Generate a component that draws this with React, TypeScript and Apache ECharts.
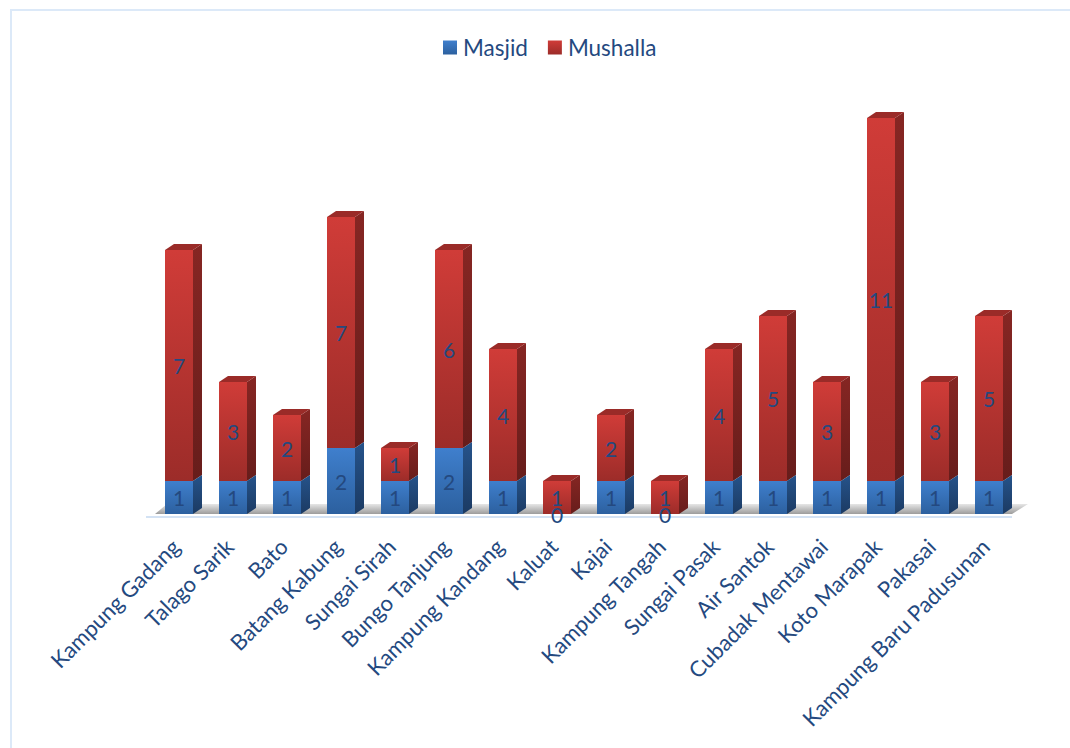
import React, { useEffect, useRef } from "react";
import * as echarts from "echarts";

const categories = [
  "Kampung Gadang", "Talago Sarik", "Bato", "Batang Kabung", "Sungai Sirah", "Bungo Tanjung",
  "Kampung Kandang", "Kaluat", "Kajai", "Kampung Tangah", "Sungai Pasak", "Air Santok",
  "Cubadak Mentawai", "Koto Marapak", "Pakasai", "Kampung Baru Padusunan",
];
const masjid = [1, 1, 1, 2, 1, 2, 1, 0, 1, 0, 1, 1, 1, 1, 1, 1];
const mushalla = [7, 3, 2, 7, 1, 6, 4, 1, 2, 1, 4, 5, 3, 11, 3, 5];

const TEXT = "#24497f";
const FONT = "Lato, 'Open Sans', sans-serif";
const BAR_W = 28;
const DEPTH_X = 9;
const DEPTH_Y = 6;

const vGrad = (top: string, bottom: string) =>
  new echarts.graphic.LinearGradient(0, 0, 0, 1, [
    { offset: 0, color: top },
    { offset: 1, color: bottom },
  ]);

type Palette = { front: [string, string]; side: [string, string]; top: string };
const bluePalette: Palette = { front: ["#3f7fcd", "#2c609f"], side: ["#26538a", "#1b3a63"], top: "#2f67a8" };
const redPalette: Palette = { front: ["#d03c38", "#9c2c29"], side: ["#862623", "#671d1b"], top: "#9a2b28" };

// Pseudo-3D prism with its value printed on the front face.
const prism = (palette: Palette, drawTop: boolean) => (_: any, api: any) => {
  const i = api.value(0);
  const value = api.value(2) - api.value(1);
  const [cx, y0] = api.coord([i, api.value(1)]);
  const [, y1] = api.coord([i, api.value(2)]);
  const l = cx - BAR_W / 2;
  const r = cx + BAR_W / 2;
  const children: any[] = [];
  if (value > 0) {
    children.push({
      type: "rect",
      shape: { x: l, y: y1, width: BAR_W, height: y0 - y1 },
      style: { fill: vGrad(palette.front[0], palette.front[1]) },
    });
    children.push({
      type: "polygon",
      shape: { points: [[r, y1], [r + DEPTH_X, y1 - DEPTH_Y], [r + DEPTH_X, y0 - DEPTH_Y], [r, y0]] },
      style: { fill: vGrad(palette.side[0], palette.side[1]) },
    });
    if (drawTop) {
      children.push({
        type: "polygon",
        shape: { points: [[l, y1], [r, y1], [r + DEPTH_X, y1 - DEPTH_Y], [l + DEPTH_X, y1 - DEPTH_Y]] },
        style: { fill: palette.top },
      });
    }
  }
  children.push({
    type: "text",
    style: {
      text: String(value),
      x: cx,
      y: (y0 + y1) / 2,
      align: "center",
      verticalAlign: "middle",
      fill: TEXT,
      font: `21px ${FONT}`,
    },
  });
  return { type: "group", children };
};

const masjidRows = masjid.map((v, i) => [i, 0, v]);
const mushallaRows = mushalla.map((v, i) => [i, masjid[i], masjid[i] + v]);

export default function App() {
  const ref = useRef<HTMLDivElement>(null);
  useEffect(() => {
    const chart = echarts.init(ref.current!, null, { renderer: "svg" });
    chart.setOption({
      animation: false,
      backgroundColor: "#ffffff",
      grid: { left: 152, top: 118, width: 864, height: 396 },
      legend: {
        data: ["Masjid", "Mushalla"],
        left: 438,
        top: 31,
        itemWidth: 14,
        itemHeight: 14,
        itemGap: 20,
        icon: "rect",
        textStyle: { color: TEXT, fontSize: 22.5, fontFamily: FONT, padding: [0, 0, 0, 1] },
      },
      xAxis: {
        type: "category",
        data: categories,
        axisLine: { show: false },
        axisTick: { show: false },
        axisLabel: {
          interval: 0,
          rotate: 45,
          margin: 25,
          padding: [0, 5, 0, 0],
          color: TEXT,
          fontSize: 22,
          fontFamily: FONT,
        },
      },
      yAxis: { type: "value", min: 0, max: 12, show: false },
      graphic: [
        // Chart frame
        { type: "line", shape: { x1: 11, y1: 10, x2: 11, y2: 748 }, style: { stroke: "#dce9f8", lineWidth: 2 } },
        { type: "line", shape: { x1: 10, y1: 10, x2: 1070, y2: 10 }, style: { stroke: "#dce9f8", lineWidth: 2 } },
        // Floor of the plot
        {
          type: "polygon",
          shape: { points: [[155, 514], [167, 504], [1028, 504], [1012, 514]] },
          style: { fill: vGrad("#e6e6e6", "#9c9c9c") },
        },
        { type: "line", shape: { x1: 146, y1: 517, x2: 1012, y2: 517 }, style: { stroke: "#d3e2f4", lineWidth: 2 } },
      ],
      series: [
        {
          name: "Masjid",
          type: "custom",
          z: 3,
          data: masjidRows,
          encode: { x: 0, y: [1, 2] },
          itemStyle: { color: vGrad(bluePalette.front[0], bluePalette.front[1]) },
          clip: false,
          renderItem: prism(bluePalette, false),
        },
        {
          name: "Mushalla",
          type: "custom",
          z: 2,
          data: mushallaRows,
          encode: { x: 0, y: [1, 2] },
          itemStyle: { color: vGrad(redPalette.front[0], redPalette.front[1]) },
          clip: false,
          renderItem: prism(redPalette, true),
        },
      ],
    });
    return () => chart.dispose();
  }, []);
  return <div ref={ref} style={{ position: "fixed", left: 0, top: 0, width: 1070, height: 748 }} />;
}
